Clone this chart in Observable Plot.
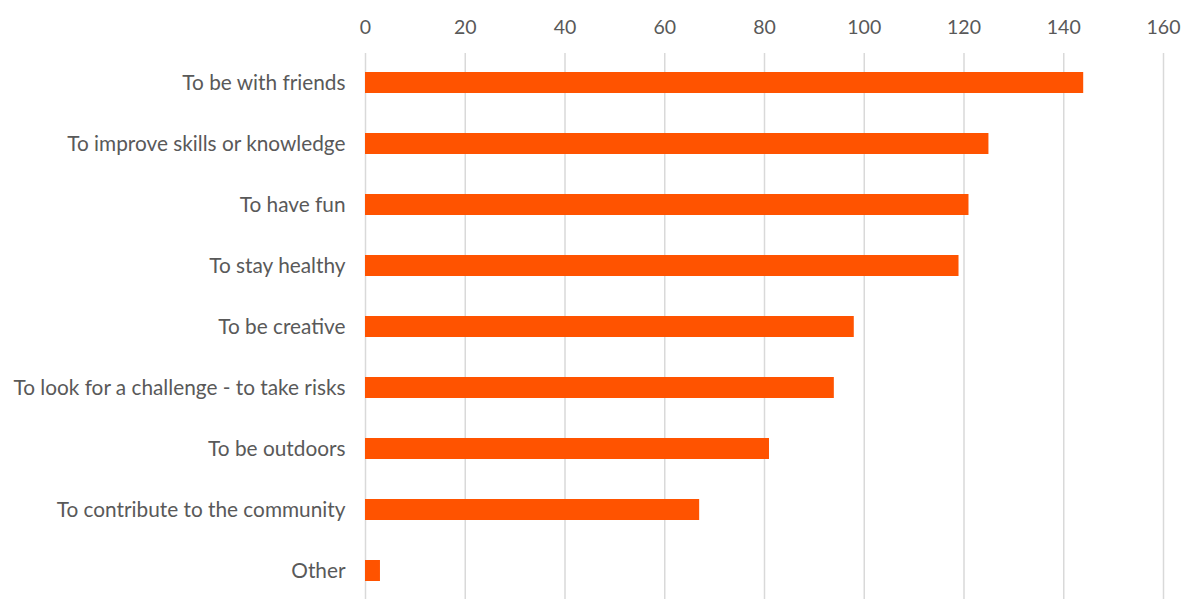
<!DOCTYPE html>
<html><head><meta charset="utf-8">
<script src="https://cdn.jsdelivr.net/npm/d3@7"></script>
<script src="https://cdn.jsdelivr.net/npm/@observablehq/plot@0.6"></script>
<style>html,body{margin:0;padding:0;background:#fff;overflow:hidden}</style>
</head><body><div id="chart"></div>
<script>
const categories = [
  "To be with friends",
  "To improve skills or knowledge",
  "To have fun",
  "To stay healthy",
  "To be creative",
  "To look for a challenge - to take risks",
  "To be outdoors",
  "To contribute to the community",
  "Other"
];
const values = [144, 125, 121, 119, 98, 94, 81, 67, 3];
const xTicks = [0, 20, 40, 60, 80, 100, 120, 140, 160];

const data = categories.map((c, i) => ({category: c, value: values[i]}));

const chart = Plot.plot({
  width: 1186,
  height: 599,
  marginLeft: 365,
  marginRight: 23,
  marginTop: 53,
  marginBottom: 0,
  style: {fontFamily: "Lato, 'Open Sans', sans-serif", fontSize: "20px", color: "#595959", background: "#fff"},
  x: {domain: [0, 160]},
  y: {domain: categories, paddingInner: 0.66, paddingOuter: 0.27, align: 0.51},
  marks: [
    Plot.gridX(xTicks, {stroke: "#d9d9d9", strokeOpacity: 1, strokeWidth: 1.5}),
    Plot.axisX(xTicks, {anchor: "top", tickSize: 0, tickPadding: 20, label: null, fontSize: 19.5}),
    Plot.axisY({tickSize: 0, tickPadding: 20, label: null, fontSize: 20.8}),
    Plot.barX(data, {x: "value", y: "category", fill: "#FF5300"})
  ]
});
document.getElementById("chart").appendChild(chart);
</script>
</body></html>
